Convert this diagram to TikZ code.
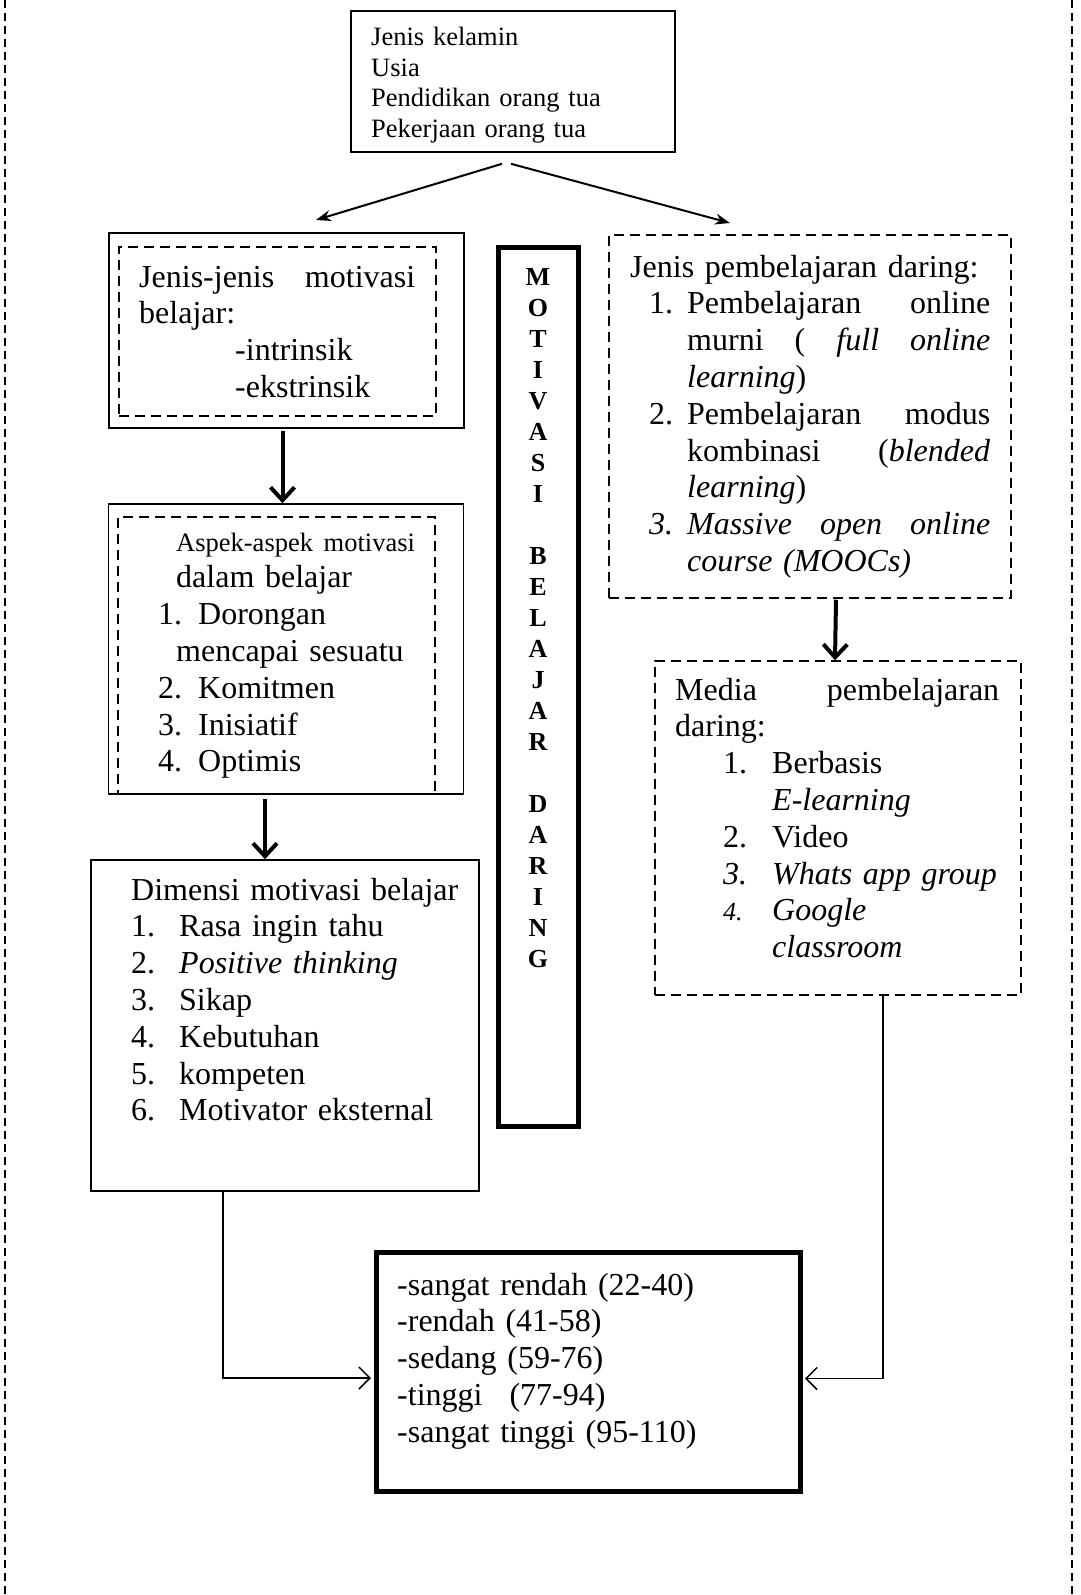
\documentclass[tikz,border=0pt]{standalone}
\usepackage{fontspec}
\setmainfont{Liberation Serif}
\usetikzlibrary{arrows.meta,positioning}

\begin{document}
\begin{tikzpicture}[x=1pt,y=-1pt,
  solidbox/.style={draw,line width=1.6pt,inner sep=0pt},
  dashbox/.style={draw,line width=1.5pt,dash pattern=on 10pt off 6pt,inner sep=0pt},
  heavybox/.style={draw,line width=5pt,inner sep=0pt},
  txt/.style={inner sep=0pt,align=left,anchor=base west,font=\fontsize{32}{36.8}\selectfont},
  topline/.style={line width=2pt,-{Stealth[length=15pt,width=11pt]}},
  fatarrow/.style={line width=4pt,-{Straight Barb[length=13pt,width=24pt]}},
  conn/.style={line width=1.5pt,shorten >=2.5pt,-{Straight Barb[length=11pt,width=22pt]}}]
  \useasboundingbox (0,0) rectangle (1081,1595);
  % outer frame
  \draw[line width=1.2pt,dash pattern=on 8pt off 5pt] (5,0) -- (5,1595);
  \draw[line width=1.2pt,dash pattern=on 8pt off 5pt] (1072,0) -- (1072,1595);

  % boxes
  \node[solidbox,minimum width=324pt,minimum height=141pt] (ident) at (513,81.5) {};
  \node[solidbox,minimum width=355pt,minimum height=195pt] (jmbox) at (286.5,330.5) {};
  \node[dashbox,minimum width=317pt,minimum height=169pt] (jminner) at (277.5,331.5) {};
  \node[solidbox,minimum width=355pt,minimum height=290pt] (aspekbox) at (286,649) {};
  \node[dashbox,minimum width=317pt,minimum height=277pt] (aspekinner) at (276.5,655.5) {};
  \node[solidbox,minimum width=388pt,minimum height=331pt] (dimbox) at (285,1025.5) {};
  \node[heavybox,minimum width=80pt,minimum height=879pt] (bar) at (538,686.5) {};
  \node[dashbox,minimum width=402pt,minimum height=363pt] (jpbox) at (810,416.5) {};
  \node[dashbox,minimum width=366pt,minimum height=334pt] (mediabox) at (838,828) {};
  \node[heavybox,minimum width=424pt,minimum height=239pt] (skorbox) at (588,1371.5) {};

  % texts
  \node[txt,text width=300pt,font=\fontsize{26.5}{30.7}\selectfont] (identtxt) at (371,45.5)
    {Jenis kelamin\\Usia\\Pendidikan orang tua\\Pekerjaan orang tua};
  \node[txt,text width=276pt] (jmtxt) at (139,287)
    {Jenis-jenis\hfill motivasi\\belajar:\\\hspace*{96pt}-intrinsik\\\hspace*{96pt}-ekstrinsik};
  \node[txt,text width=270pt] (aspektxt) at (158,551)
    {{\fontsize{26.5}{30.7}\selectfont\hspace*{18pt}Aspek-aspek motivasi\par}
     \hspace*{18pt}dalam belajar\\1. Dorongan\\\hspace*{18pt}mencapai sesuatu\\
     2. Komitmen\\3. Inisiatif\\4. Optimis};
  \node[txt,text width=340pt] (dimtxt) at (131,900)
    {Dimensi motivasi belajar\\
     \makebox[48pt][l]{1.}Rasa ingin tahu\\
     \makebox[48pt][l]{2.}\textit{Positive thinking}\\
     \makebox[48pt][l]{3.}Sikap\\
     \makebox[48pt][l]{4.}Kebutuhan\\
     \makebox[48pt][l]{5.}kompeten\\
     \makebox[48pt][l]{6.}Motivator eksternal};
  \node[txt,text width=40pt,align=center,anchor=base,
    font=\fontsize{26}{31}\selectfont\bfseries] (bartxt) at (538,285)
    {M\\O\\T\\I\\V\\A\\S\\I\\\mbox{}\\B\\E\\L\\A\\J\\A\\R\\\mbox{}\\D\\A\\R\\I\\N\\G};
  \node[txt,text width=360pt] (jptxt) at (630,277)
    {Jenis pembelajaran daring:\\
     \hspace*{19pt}\makebox[38pt][l]{1.}Pembelajaran\hfill online\\
     \hspace*{57pt}murni\hfill(\hfill\textit{full}\hfill\textit{online}\\
     \hspace*{57pt}\textit{learning})\\
     \hspace*{19pt}\makebox[38pt][l]{2.}Pembelajaran\hfill modus\\
     \hspace*{57pt}kombinasi\hfill(\textit{blended}\\
     \hspace*{57pt}\textit{learning})\\
     \hspace*{19pt}\makebox[38pt][l]{\textit{3.}}\textit{Massive\hfill open\hfill online}\\
     \hspace*{57pt}\textit{course (MOOCs)}};
  \node[txt,text width=324pt] (mediatxt) at (675,700)
    {Media\hfill pembelajaran\\
     daring:\\
     \hspace*{48pt}\makebox[49pt][l]{1.}Berbasis\\
     \hspace*{97pt}\textit{E-learning}\\
     \hspace*{48pt}\makebox[49pt][l]{2.}Video\\
     \hspace*{48pt}\makebox[49pt][l]{\textit{3.}}\textit{Whats app group}\\
     \hspace*{48pt}\makebox[49pt][l]{\fontsize{26}{30}\selectfont\textit{4.}}\textit{Google}\\
     \hspace*{97pt}\textit{classroom}};
  \node[txt,text width=380pt] (skortxt) at (397,1295)
    {-sangat rendah (22-40)\\-rendah (41-58)\\-sedang (59-76)\\
     -tinggi\hspace{27pt}(77-94)\\-sangat tinggi (95-110)};

  % connectors
  \coordinate (tipL) at (316,220);
  \coordinate (tipR) at (730,223);
  \coordinate (laneL) at (223,0);
  \coordinate (laneR) at (883,0);
  \draw[topline] ([xshift=-11pt,yshift=-11pt]ident.south) -- (tipL);
  \draw[topline] ([xshift=-2pt,yshift=-11pt]ident.south) -- (tipR);
  \draw[fatarrow] ([xshift=-4pt,yshift=-2pt]jmbox.south) -- ([xshift=-3.5pt]aspekbox.north);
  \draw[fatarrow] ([xshift=-21pt,yshift=-4pt]aspekbox.south) -- ([xshift=-20pt]dimbox.north);
  \draw[fatarrow] ([xshift=26pt,yshift=-1pt]jpbox.south) -- ([xshift=-3pt]mediabox.north);
  \draw[conn] (dimbox.south -| laneL) |- ([yshift=-6.5pt]skorbox.west);
  \draw[conn] (mediabox.south -| laneR) |- ([yshift=-7pt]skorbox.east);
\end{tikzpicture}
\end{document}
